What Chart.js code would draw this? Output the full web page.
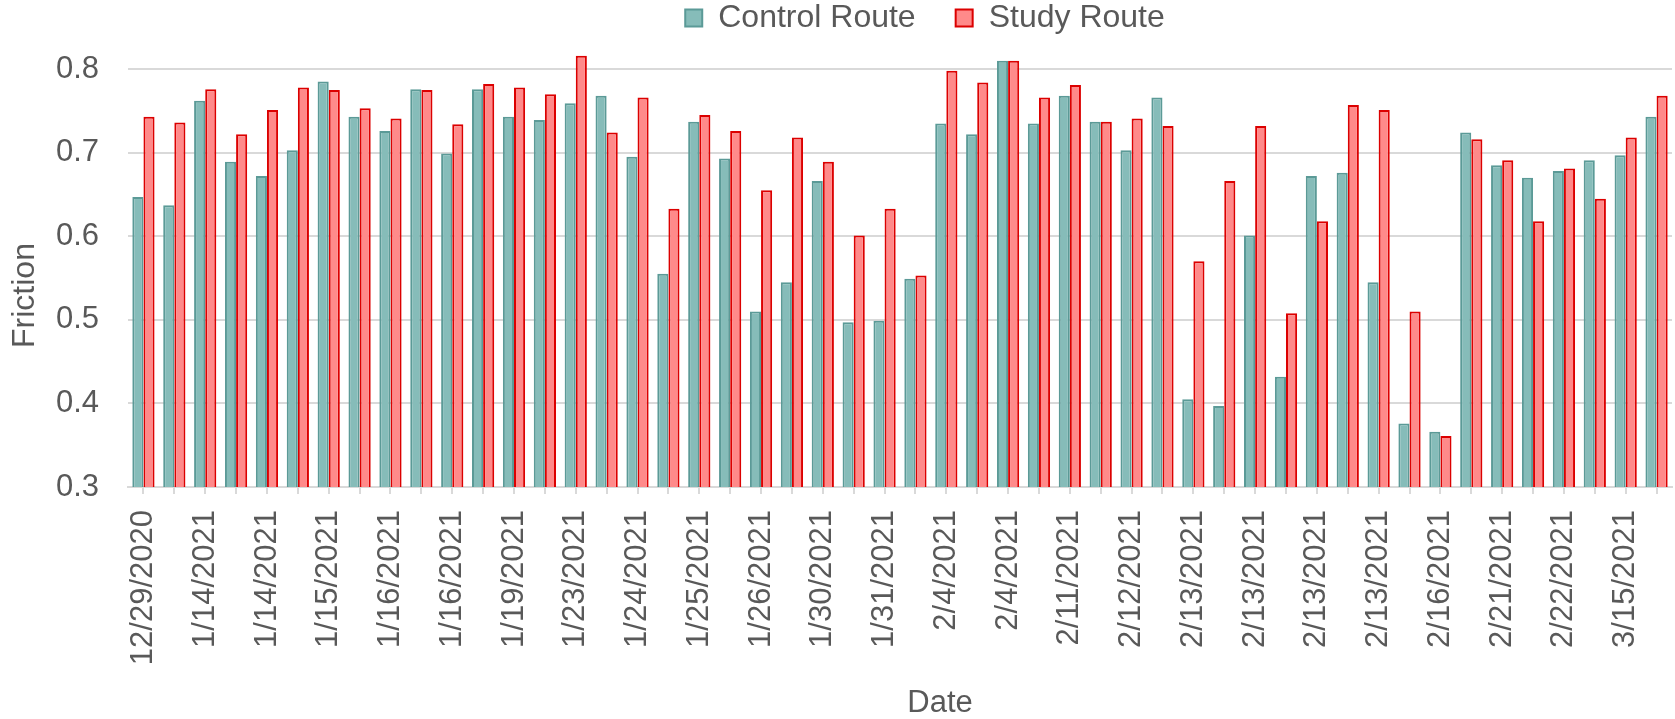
<!DOCTYPE html>
<html>
<head>
<meta charset="utf-8">
<title>Friction by Date</title>
<script src="https://cdn.jsdelivr.net/npm/chart.js@4/dist/chart.umd.min.js"></script>
<style>
  html, body { margin: 0; padding: 0; background: #ffffff; }
  #wrap { width: 1675px; height: 719px; position: relative; }
</style>
</head>
<body>
<div id="wrap"><canvas id="chart"></canvas></div>
<script>
// Test dates (one category per test run)
const dates = [
  '12/29/2020', '1/13/2021', '1/14/2021', '1/14/2021', '1/14/2021', '1/15/2021',
  '1/15/2021', '1/15/2021', '1/16/2021', '1/16/2021', '1/16/2021', '1/18/2021',
  '1/19/2021', '1/21/2021', '1/23/2021', '1/23/2021', '1/24/2021', '1/24/2021',
  '1/25/2021', '1/25/2021', '1/26/2021', '1/29/2021', '1/30/2021', '1/30/2021',
  '1/31/2021', '2/3/2021', '2/4/2021', '2/4/2021', '2/4/2021', '2/10/2021',
  '2/11/2021', '2/12/2021', '2/12/2021', '2/13/2021', '2/13/2021', '2/13/2021',
  '2/13/2021', '2/13/2021', '2/13/2021', '2/13/2021', '2/13/2021', '2/14/2021',
  '2/16/2021', '2/20/2021', '2/21/2021', '2/21/2021', '2/22/2021', '2/23/2021',
  '3/15/2021', '3/16/2021'
];

// Friction readings
const controlRoute = [
  0.647, 0.637, 0.762, 0.689, 0.672, 0.703, 0.785, 0.743, 0.726, 0.776,
  0.699, 0.776, 0.743, 0.739, 0.759, 0.768, 0.695, 0.555, 0.737, 0.693,
  0.510, 0.545, 0.666, 0.497, 0.499, 0.549, 0.735, 0.722, 0.810, 0.735,
  0.768, 0.737, 0.703, 0.766, 0.405, 0.397, 0.601, 0.432, 0.672, 0.676,
  0.545, 0.376, 0.366, 0.724, 0.685, 0.670, 0.678, 0.691, 0.697, 0.743
];
const studyRoute = [
  0.743, 0.736, 0.776, 0.722, 0.751, 0.778, 0.775, 0.753, 0.741, 0.775,
  0.734, 0.782, 0.778, 0.770, 0.816, 0.724, 0.766, 0.633, 0.745, 0.726,
  0.655, 0.718, 0.689, 0.601, 0.633, 0.553, 0.798, 0.784, 0.810, 0.766,
  0.781, 0.737, 0.741, 0.732, 0.570, 0.666, 0.732, 0.508, 0.618, 0.757,
  0.751, 0.510, 0.361, 0.716, 0.691, 0.618, 0.681, 0.645, 0.718, 0.768
];

const seriesNames = ['Control Route', 'Study Route'];
const axisTitles = { x: 'Date', y: 'Friction' };

const TEXT = '#595959';
const GRID = '#d9d9d9';
Chart.defaults.font.family = '"Liberation Sans", Arial, sans-serif';
Chart.defaults.color = TEXT;

// nudges the legend row to the right of the canvas centre
const legendOffset = {
  id: 'legendOffset',
  afterLayout(chart) {
    if (chart.legend) {
      chart.legend.left += 89;
      chart.legend.right += 89;
    }
  }
};

// shifts an axis title away from the axis centre by a fixed offset
const titleNudge = {
  id: 'titleNudge',
  afterLayout(chart, args, opts) {
    const offsets = (opts && opts.offsets) || {};
    for (const id of Object.keys(offsets)) {
      const scale = chart.scales[id];
      if (!scale || scale.$nudged) continue;
      const [dx, dy] = offsets[id];
      const baseDrawTitle = Object.getPrototypeOf(scale).drawTitle;
      scale.drawTitle = function () {
        const ctx = this.ctx;
        ctx.save();
        ctx.translate(dx, dy);
        baseDrawTitle.call(this);
        ctx.restore();
      };
      scale.$nudged = true;
    }
  }
};

new Chart(document.getElementById('chart'), {
  type: 'bar',
  data: {
    labels: dates,
    datasets: [
      {
        label: seriesNames[0],
        data: controlRoute,
        backgroundColor: '#86bcb9',
        borderColor: '#5b9a97',
        borderWidth: 2,
        categoryPercentage: 0.72,
        barPercentage: 1.0
      },
      {
        label: seriesNames[1],
        data: studyRoute,
        backgroundColor: '#ff8a8a',
        borderColor: '#dc0000',
        borderWidth: 2,
        categoryPercentage: 0.72,
        barPercentage: 1.0
      }
    ]
  },
  plugins: [legendOffset, titleNudge],
  options: {
    responsive: true,
    maintainAspectRatio: false,
    devicePixelRatio: 1,
    animation: false,
    layout: { padding: { top: -38, right: 3, bottom: 0, left: 0 } },
    plugins: {
      tooltip: { enabled: false },
      titleNudge: { offsets: { x: [40, 0], y: [0, 30] } },
      legend: {
        position: 'top',
        align: 'center',
        labels: {
          boxWidth: 17,
          boxHeight: 17,
          padding: 40,
          color: TEXT,
          font: { size: 32 }
        }
      }
    },
    scales: {
      x: {
        grid: {
          display: true,
          drawOnChartArea: false,
          drawTicks: true,
          tickLength: 7,
          color: GRID,
          lineWidth: 2,
          offset: false
        },
        border: { display: true, color: GRID, width: 2 },
        ticks: {
          autoSkip: false,
          maxRotation: 90,
          minRotation: 90,
          padding: 16,
          color: TEXT,
          font: { size: 31 },
          callback: (value, index) => (index % 2 === 0 ? dates[index] : '')
        },
        title: {
          display: true,
          text: axisTitles.x,
          color: TEXT,
          font: { size: 31, lineHeight: 1 },
          padding: { top: 0, bottom: 0 }
        },
        afterFit: (scale) => {
          scale.height = 232;
          scale.paddingLeft = 0;
          scale.paddingRight = 0;
        }
      },
      y: {
        min: 0.3,
        max: 0.83,
        grid: { color: GRID, lineWidth: 2, drawTicks: false },
        border: { display: false },
        ticks: {
          stepSize: 0.1,
          includeBounds: false,
          padding: 29,
          color: TEXT,
          font: { size: 31 },
          callback: (value) => Number(value).toFixed(1)
        },
        title: {
          display: true,
          text: axisTitles.y,
          color: TEXT,
          font: { size: 32, lineHeight: 1.2 },
          padding: { top: 6, bottom: 0 }
        },
        afterFit: (scale) => {
          scale.width = 128;
          scale.paddingTop = 0;
          scale.paddingBottom = 0;
        }
      }
    }
  }
});
</script>
</body>
</html>
